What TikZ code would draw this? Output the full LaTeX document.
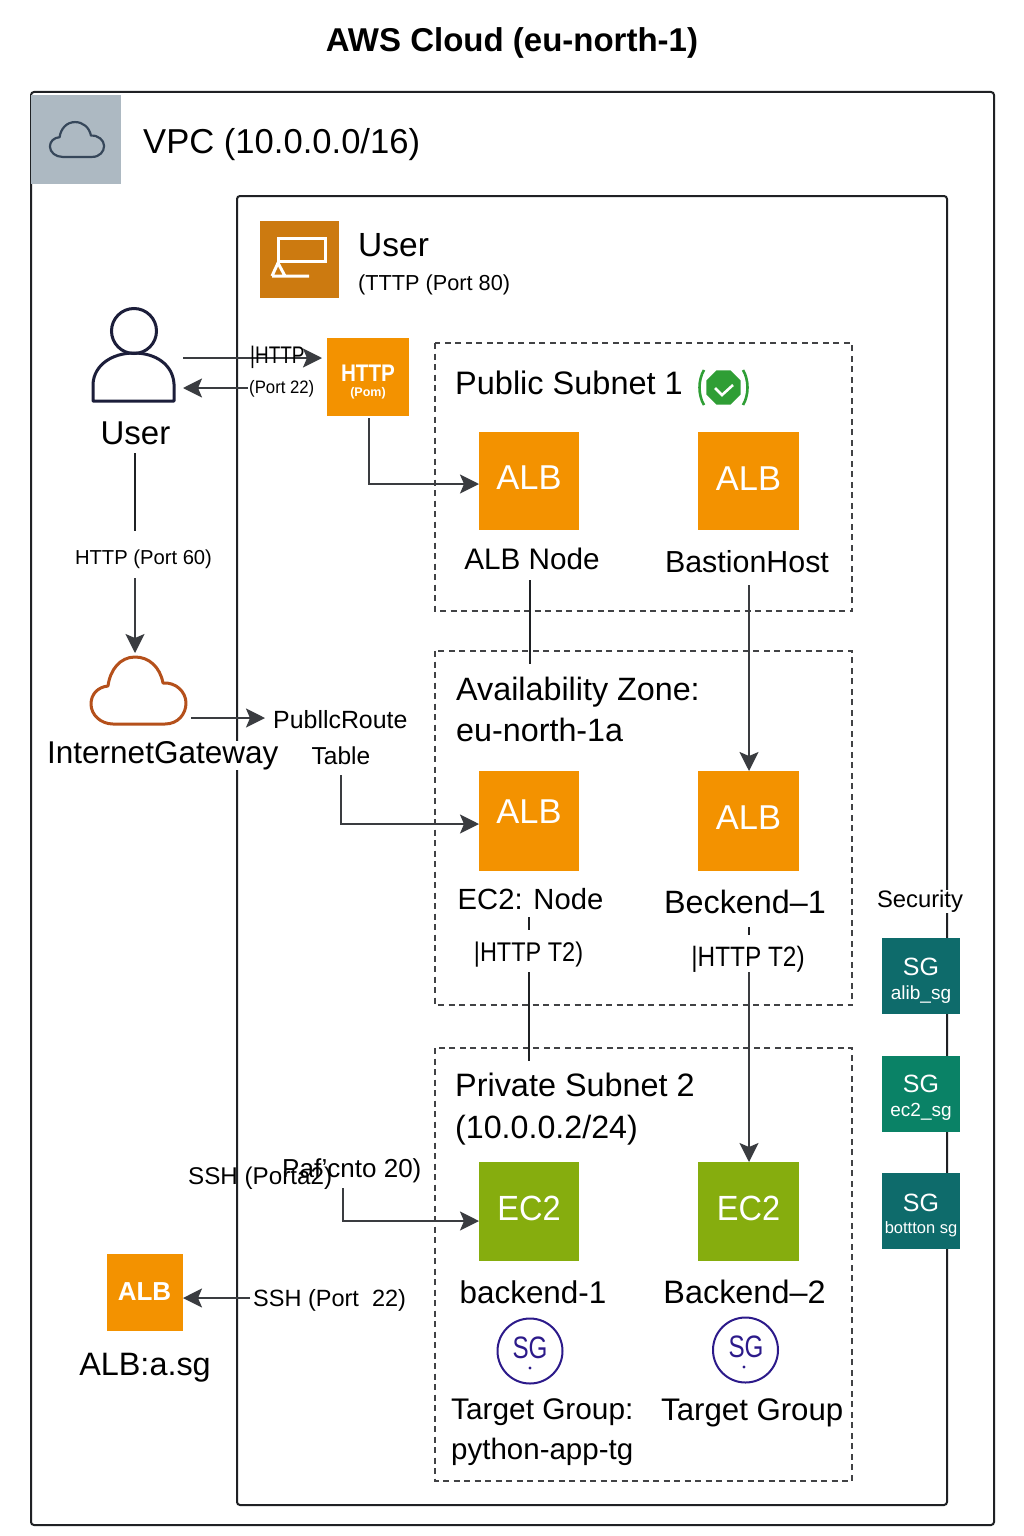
\documentclass[tikz,border=0pt]{standalone}
\usepackage{fontspec}
\usepackage{graphicx}
\setmainfont{Liberation Sans}
\usetikzlibrary{arrows.meta,shapes.geometric}
\definecolor{ink}{HTML}{1F2124}
\definecolor{arrowink}{HTML}{3A3C40}
\definecolor{albcol}{HTML}{F39200}
\definecolor{usercol}{HTML}{CC7A10}
\definecolor{ec2col}{HTML}{86AD0E}
\definecolor{sgdark}{HTML}{0E6B6B}
\definecolor{sggreen}{HTML}{0A8266}
\definecolor{sgpurple}{HTML}{2C1A8A}
\definecolor{igwcol}{HTML}{B5501B}
\definecolor{vpcgrey}{HTML}{ADB9C2}
\definecolor{vpcline}{HTML}{36475A}
\definecolor{okgreen}{HTML}{2F9E35}
\newcommand{\fz}[1]{\fontsize{#1}{#1}\selectfont}
% \lab{name}{anchor}{x}{visual y centre}{size}{text}
\newcommand{\lab}[7][]{\node[anchor=#3,inner sep=0pt,font=\fz{#6},#1] (#2) at (#4,#5+0.36*#6) {#7};}
\newcommand{\rs}[2]{\raisebox{#1pt}{#2}}
\newcommand{\nar}[2]{\scalebox{#1}[1]{#2}}
\newcommand{\cloudpath}{(113,724) -- (165,724) .. controls (178,724) and (186,714) .. (186,703) .. controls (186,692) and (176,682) .. (163,683) .. controls (160,667) and (149,657) .. (135,657) .. controls (120,657) and (110,670) .. (108,686) .. controls (98,687) and (91,694) .. (91,704) .. controls (91,715) and (101,724) .. (113,724) -- cycle}
\tikzset{
  x=1pt,y=-1pt,
  frame/.style={draw=ink,line width=2pt,rounded corners=3pt},
  dashbox/.style={draw=ink!85,line width=1.5pt,dash pattern=on 6pt off 4.5pt},
  tile/.style={inner sep=0pt,outer sep=0pt,text=white,align=center},
  albtile/.style={tile,fill=albcol,minimum width=100.5pt,minimum height=98.5pt,font=\fz{34.5}},
  ectile/.style={tile,fill=ec2col,minimum width=100.5pt,minimum height=99pt,font=\fz{35}},
  sgtile/.style={tile,minimum width=78pt,minimum height=76pt},
  arr/.style={draw=arrowink,line width=1.8pt,-{Stealth[length=19pt,width=19pt,inset=4pt]}},
  plain/.style={draw=ink,line width=1.8pt},
  sgring/.style={circle,draw=sgpurple,line width=2pt,minimum size=65pt,inner sep=0pt,text=sgpurple,align=center},
}
\begin{document}
\begin{tikzpicture}
\useasboundingbox (0,0) rectangle (1024,1536);
\fill[white] (0,0) rectangle (1024,1536);
% containers
\draw[frame] (31,92) rectangle (994,1525);
\draw[frame] (237,196) rectangle (947,1505);
\draw[dashbox] (435,343) rectangle (852,611);
\draw[dashbox] (435,651) rectangle (852,1005);
\draw[dashbox] (435,1048) rectangle (852,1481);
% title
\lab[font=\fz{33}\bfseries]{title}{base}{512}{40}{33}{AWS Cloud (eu-north-1)}
% VPC tag
\node[fill=vpcgrey,minimum width=90pt,minimum height=89pt,inner sep=0pt] (vpctag) at (76,139.5) {};
\draw[vpcline,line width=2.2pt,line join=round] [shift={(77,139.5)},xscale=.57,yscale=.52,shift={(-138.5,-690.5)}] \cloudpath;
\lab{vpctitle}{base west}{143}{141}{34.6}{VPC (10.0.0.0/16)}
% user tag
\node[fill=usercol,minimum width=79pt,minimum height=77pt,inner sep=0pt] (usertag) at (299.5,259.5) {};
\draw[white,line width=3pt] (278,263) -- (278,238) -- (325,238) -- (325,261) -- (278,261);
\draw[white,line width=3pt,line join=miter] (272,276) -- (278,263) -- (285,276) -- (272,276) -- (309,276);
\lab{usertitle}{base west}{358}{244}{33.5}{User}
\lab{usersub}{base west}{358}{283}{21.7}{(TTTP (Port 80)}
% user person
\node[circle,draw=ink!90!blue,line width=3pt,minimum size=45pt,inner sep=0pt] (head) at (134,331) {};
\draw[ink!90!blue,line width=3pt,line join=round] (93,401) -- (93,384) .. controls (94,365) and (112,353) .. (134,353) .. controls (156,353) and (173,365) .. (174,384) -- (174,401) -- cycle;
\lab{userlab}{base}{135.5}{433}{33}{User}
% http tile
\node[tile,fill=albcol,minimum width=82pt,minimum height=78pt] (httptile) at (368,377) {};
\lab[font=\fz{24}\bfseries,text=white]{httpa}{base}{368}{373}{24}{\nar{.86}{HTTP}}
\lab[font=\fz{12.5}\bfseries,text=white]{httpb}{base}{368}{392}{12.5}{(Pom)}
% http arrows
\coordinate (ua) at (183,358);
\coordinate (ub) at (322,358);
\coordinate (uc) at (248,388);
\coordinate (ud) at (183,388);
\draw[arr] (ua) -- (ub);
\draw[arr] (uc) -- (ud);
\lab{httplab}{base west}{250}{355}{24}{\nar{.79}{|HTTP}}
\lab{portlab}{base west}{249}{387}{18}{\nar{.93}{(Port 22)}}
% public subnet
\lab{pubtitle}{base west}{455}{383}{32.5}{Public Subnet 1}
\node[regular polygon,regular polygon sides=8,fill=okgreen,minimum size=37pt,inner sep=0pt] (badge) at (723.5,387.5) {};
\draw[white,line width=2.6pt] (715,388) -- (722,395) -- (733,385);
\draw[okgreen,line width=2.6pt] (704,370) .. controls (698,380) and (698,395) .. (704,405);
\draw[okgreen,line width=2.6pt] (743,370) .. controls (749,380) and (749,395) .. (743,405);
\node[albtile] (alba) at (529,481) {\rs{7}{ALB}};
\node[albtile] (albb) at (748.5,481) {\rs{5}{ALB}};
\lab{albalab}{base}{532}{559}{29.7}{ALB Node}
\lab{albblab}{base}{747}{562}{30.4}{BastionHost}
\coordinate (ha) at (369,418);
\coordinate (hb) at (479,484);
\draw[arr] (ha) |- (hb);
% AZ
\lab{aztitle}{base west}{456}{689}{32.3}{Availability Zone:}
\lab{azsub}{base west}{456}{730}{32.3}{eu-north-1a}
\node[albtile,minimum height=100pt] (albc) at (529,821) {\rs{19}{ALB}};
\node[albtile,minimum height=100pt] (albd) at (748.5,821) {\rs{7}{ALB}};
\lab{ecnode}{base}{530.5}{899}{29.2}{EC2: Node}
\lab{beck}{base}{745}{902}{32.3}{Beckend–1}
\coordinate (la) at (530,580);
\coordinate (lb) at (530,664);
\draw[plain] (la) -- (lb);
\coordinate (lc) at (749,585);
\coordinate (ld) at (749,771);
\draw[arr] (lc) -- (ld);
% left side
\coordinate (va) at (135,453);
\coordinate (vb) at (135,531);
\coordinate (vc) at (135,578);
\coordinate (vd) at (135,653);
\draw[plain] (va) -- (vb);
\draw[arr] (vc) -- (vd);
\lab{httpsixty}{base}{143.5}{557}{20.2}{HTTP (Port 60)}
\draw[igwcol,line width=3pt,line join=round] \cloudpath;
\lab[fill=white]{igw}{base west}{47}{752}{31.5}{InternetGateway}
\coordinate (ia) at (191,718);
\coordinate (ib) at (265,718);
\draw[arr] (ia) -- (ib);
\lab{proute}{base west}{273}{720}{24.9}{PubllcRoute}
\lab{ptable}{base}{341}{756}{24.5}{Table}
\coordinate (ta) at (341,775);
\coordinate (tb) at (479,824);
\draw[arr] (ta) |- (tb);
% AZ to private
\coordinate (ma) at (529,917);
\coordinate (mb) at (529,930);
\draw[plain] (ma) -- (mb);
\lab{httpa2}{base}{528.5}{952}{27}{\nar{.87}{|HTTP T2)}}
\coordinate (mc) at (529,972);
\coordinate (md) at (529,1061);
\draw[plain] (mc) -- (md);
\coordinate (me) at (749,927);
\coordinate (mf) at (749,935);
\draw[plain] (me) -- (mf);
\lab{httpb2}{base}{748}{956}{28}{\nar{.87}{|HTTP T2)}}
\coordinate (mg) at (749,972);
\coordinate (mh) at (749,1162);
\draw[arr] (mg) -- (mh);
% private subnet
\lab{privtitle}{base west}{455}{1085}{32.4}{Private Subnet 2}
\lab{privsub}{base west}{455}{1127}{32.2}{(10.0.0.2/24)}
\node[ectile] (eca) at (529,1211.5) {\rs{7}{\nar{.93}{EC2}}};
\node[ectile] (ecb) at (748.5,1211.5) {\rs{7}{\nar{.93}{EC2}}};
\lab{ssha}{base west}{188}{1176}{24.2}{SSH (Porta2)}
\lab{sshb}{base west}{282}{1168}{26}{Paf’cnto 20)}
\coordinate (sa) at (343,1188);
\coordinate (sb) at (479,1221);
\draw[arr] (sa) |- (sb);
\lab{bka}{base}{533}{1292}{31.4}{backend-1}
\lab{bkb}{base}{744.5}{1292}{32.4}{Backend–2}
\node[sgring] (ringa) at (530,1351) {};
\node[sgring] (ringb) at (745.5,1350) {};
\lab[text=sgpurple]{sga}{base}{530}{1347}{31}{\nar{.78}{SG}}
\lab[text=sgpurple]{sgb}{base}{746}{1346}{31}{\nar{.78}{SG}}
\fill[sgpurple] (530,1368) circle (1.6pt);
\fill[sgpurple] (744,1367) circle (1.6pt);
\lab{tga}{base west}{451}{1409}{29.8}{Target Group:}
\lab{tgb}{base west}{451}{1449}{29.5}{python-app-tg}
\lab{tgc}{base west}{661}{1409}{31.2}{Target Group}
% bottom-left
\node[tile,fill=albcol,minimum width=76pt,minimum height=77pt,font=\fz{26}\bfseries] (albe) at (144.5,1292.5) {\rs{2}{ALB}};
\lab{albelab}{base}{145}{1364}{32.4}{ALB:a.sg}
\lab{sshc}{base west}{253}{1298}{23.5}{SSH (Port\ \ 22)}
\coordinate (sc) at (250,1298);
\coordinate (sd) at (183,1298);
\draw[arr] (sc) -- (sd);
% security
\lab[fill=white]{secu}{base}{920}{899}{23.8}{Security}
\node[sgtile,fill=sgdark] (sgone) at (921,976) {\fz{25}\rule{0pt}{26pt}SG\\[9pt]\fz{19}alib\_sg};
\node[sgtile,fill=sggreen] (sgtwo) at (921,1093.5) {\fz{25}\rule{0pt}{26pt}SG\\[9pt]\fz{19}ec2\_sg};
\node[sgtile,fill=sgdark] (sgthree) at (921,1211) {\fz{25}\rule{0pt}{26pt}SG\\[9pt]\fz{16.5}bottton sg};
\end{tikzpicture}
\end{document}
